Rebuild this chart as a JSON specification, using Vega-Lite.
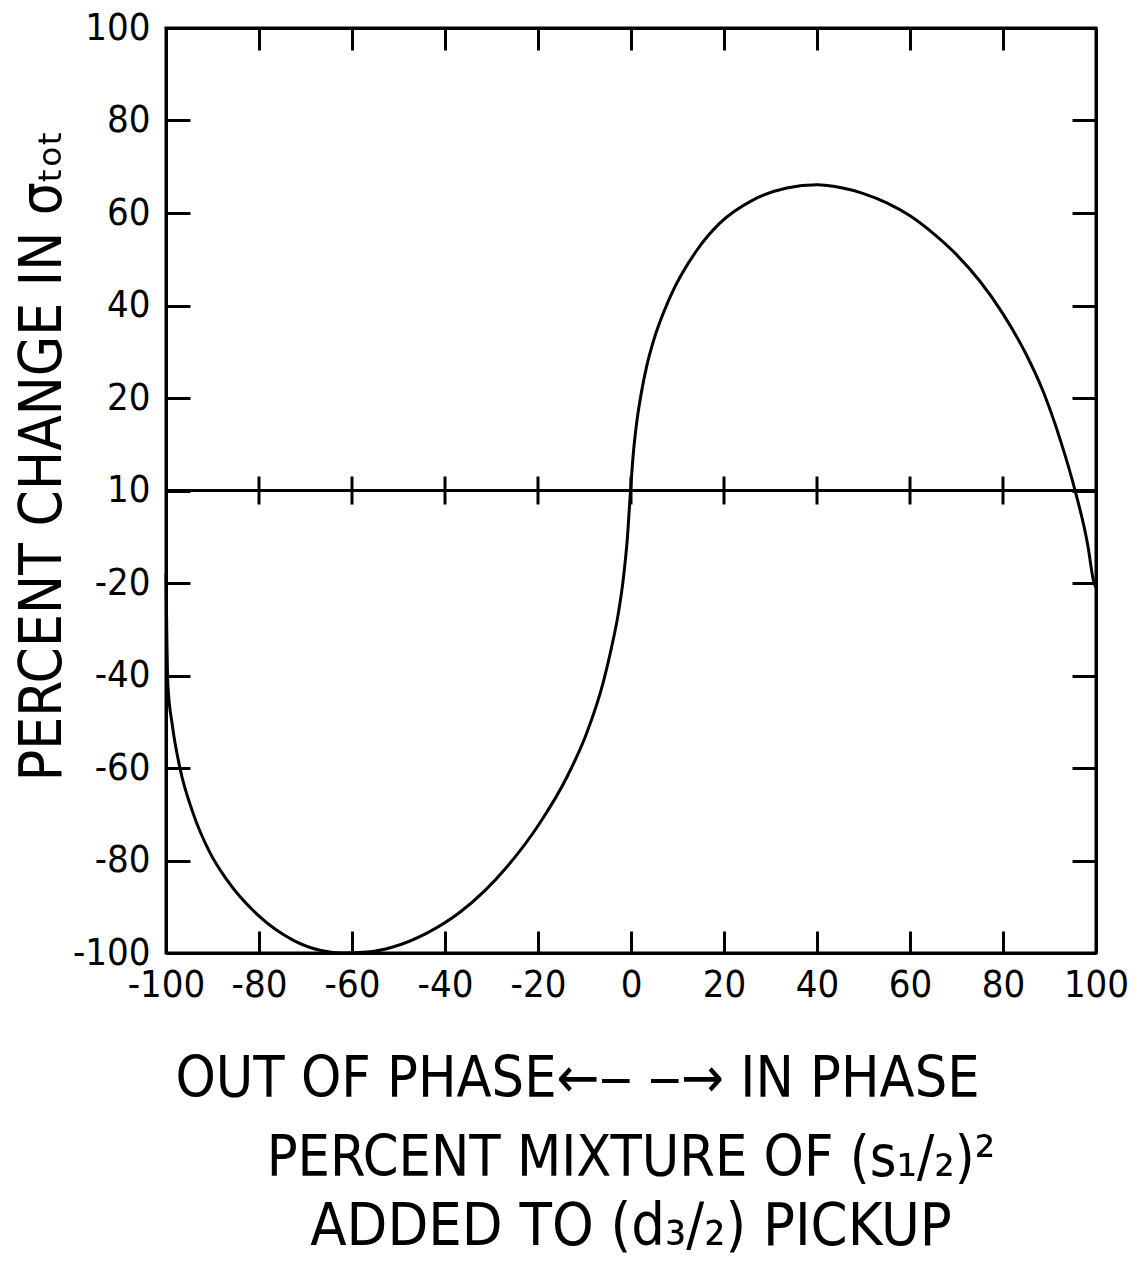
{
  "$schema": "https://vega.github.io/schema/vega-lite/v6.json",
  "width": 930,
  "height": 925,
  "autosize": {"type": "none"},
  "padding": {"left": 166, "top": 28, "right": 43, "bottom": 314},
  "background": "white",
  "config": {
    "font": "DejaVu Sans Condensed, DejaVu Sans, sans-serif",
    "view": {"stroke": "black", "strokeWidth": 3},
    "axis": {
      "grid": false,
      "domainColor": "black",
      "domainWidth": 3,
      "tickColor": "black",
      "tickWidth": 3,
      "labelColor": "black",
      "labelFontSize": 38,
      "labelFont": "DejaVu Sans Condensed, DejaVu Sans, sans-serif",
      "titleColor": "black",
      "titleFont": "DejaVu Sans Condensed, DejaVu Sans, sans-serif",
      "titleFontWeight": "normal"
    }
  },
  "title": {
    "text": "PERCENT MIXTURE OF (s₁/₂)²",
    "subtitle": "ADDED TO (d₃/₂) PICKUP",
    "orient": "bottom",
    "anchor": "middle",
    "font": "DejaVu Sans Condensed, DejaVu Sans, sans-serif",
    "subtitleFont": "DejaVu Sans Condensed, DejaVu Sans, sans-serif",
    "fontSize": 57,
    "subtitleFontSize": 59,
    "fontWeight": "normal",
    "color": "black",
    "subtitleColor": "black",
    "offset": 24,
    "subtitlePadding": 10
  },
  "resolve": {"axis": {"x": "independent", "y": "independent"}},
  "layer": [
    {
      "data": {
        "values": [
          {"x": -100, "y": -18},
          {"x": -99.8, "y": -33},
          {"x": -99.6, "y": -42},
          {"x": -98.6, "y": -51},
          {"x": -97, "y": -60},
          {"x": -94.2, "y": -69.7},
          {"x": -90.5, "y": -78.4},
          {"x": -86.9, "y": -84.2},
          {"x": -79.8, "y": -92.2},
          {"x": -72.7, "y": -97.2},
          {"x": -66.9, "y": -99.4},
          {"x": -62, "y": -100},
          {"x": -56.8, "y": -99.8},
          {"x": -51.2, "y": -98.7},
          {"x": -43.9, "y": -95.7},
          {"x": -36.8, "y": -91.2},
          {"x": -26.7, "y": -81.4},
          {"x": -19.6, "y": -71.9},
          {"x": -13.8, "y": -62},
          {"x": -9.5, "y": -52.4},
          {"x": -6, "y": -41.6},
          {"x": -4.2, "y": -34},
          {"x": -2.8, "y": -27},
          {"x": -1.7, "y": -19.5},
          {"x": -0.8, "y": -10.5},
          {"x": -0.1, "y": 0},
          {"x": 0.5, "y": 8},
          {"x": 1.2, "y": 14.5},
          {"x": 2.2, "y": 21},
          {"x": 3.4, "y": 27},
          {"x": 4.7, "y": 31.9},
          {"x": 8.4, "y": 41.8},
          {"x": 14.2, "y": 52},
          {"x": 19.1, "y": 57.8},
          {"x": 26.2, "y": 62.8},
          {"x": 33.5, "y": 65.4},
          {"x": 40, "y": 66.1},
          {"x": 45, "y": 65.5},
          {"x": 50, "y": 64.2},
          {"x": 55, "y": 62.2},
          {"x": 60, "y": 59.4},
          {"x": 65, "y": 55.6},
          {"x": 70, "y": 51},
          {"x": 75, "y": 45.3},
          {"x": 80, "y": 38.2},
          {"x": 85, "y": 29.4},
          {"x": 88.6, "y": 21.5},
          {"x": 92.3, "y": 11},
          {"x": 95.5, "y": 0},
          {"x": 98.3, "y": -12.2},
          {"x": 99.4, "y": -19.2},
          {"x": 100, "y": -21}
        ]
      },
      "mark": {"type": "line", "color": "black", "strokeWidth": 3, "interpolate": "monotone"},
      "encoding": {
        "x": {
          "field": "x",
          "type": "quantitative",
          "scale": {"domain": [-100, 100], "nice": false, "zero": false},
          "axis": {
            "orient": "bottom",
            "values": [-100, -80, -60, -40, -20, 0, 20, 40, 60, 80, 100],
            "labelExpr": "'' + datum.value",
            "tickSize": -22,
            "labelPadding": 35,
            "labelFlush": false,
            "labelOverlap": false,
            "title": "OUT OF PHASE←‒ ‒→ IN PHASE",
            "titleFontSize": 57,
            "titlePadding": 47,
            "titleX": 411
          }
        },
        "y": {
          "field": "y",
          "type": "quantitative",
          "scale": {"domain": [-100, 100], "nice": false, "zero": false},
          "axis": {
            "orient": "left",
            "values": [-100, -80, -60, -40, -20, 0, 20, 40, 60, 80, 100],
            "labelExpr": "datum.value == 0 ? '10' : '' + datum.value",
            "tickSize": -24,
            "labelPadding": 40,
            "labelFlush": false,
            "labelOverlap": false,
            "title": "PERCENT CHANGE IN σₜₒₜ",
            "titleFontSize": 58,
            "titlePadding": 0,
            "titleY": 427
          }
        }
      }
    },
    {
      "data": {
        "values": [
          {"tx": -80, "ty": 0},
          {"tx": -60, "ty": 0},
          {"tx": -40, "ty": 0},
          {"tx": -20, "ty": 0},
          {"tx": 0, "ty": 0},
          {"tx": 20, "ty": 0},
          {"tx": 40, "ty": 0},
          {"tx": 60, "ty": 0},
          {"tx": 80, "ty": 0}
        ]
      },
      "mark": {"type": "tick", "orient": "vertical", "color": "black", "size": 28, "thickness": 3, "opacity": 1},
      "encoding": {
        "x": {
          "field": "tx",
          "type": "quantitative",
          "scale": {"domain": [-100, 100], "nice": false, "zero": false},
          "axis": {
            "orient": "top",
            "values": [-80, -60, -40, -20, 0, 20, 40, 60, 80],
            "labels": false,
            "tickSize": -22,
            "title": null
          }
        },
        "y": {
          "field": "ty",
          "type": "quantitative",
          "scale": {"domain": [-100, 100], "nice": false, "zero": false},
          "axis": {
            "orient": "right",
            "values": [-80, -60, -40, -20, 0, 20, 40, 60, 80],
            "labels": false,
            "tickSize": -24,
            "title": null
          }
        }
      }
    },
    {
      "data": {"values": [{}]},
      "mark": {"type": "rule", "color": "black", "strokeWidth": 3},
      "encoding": {"y": {"datum": 0, "axis": null}}
    }
  ]
}
